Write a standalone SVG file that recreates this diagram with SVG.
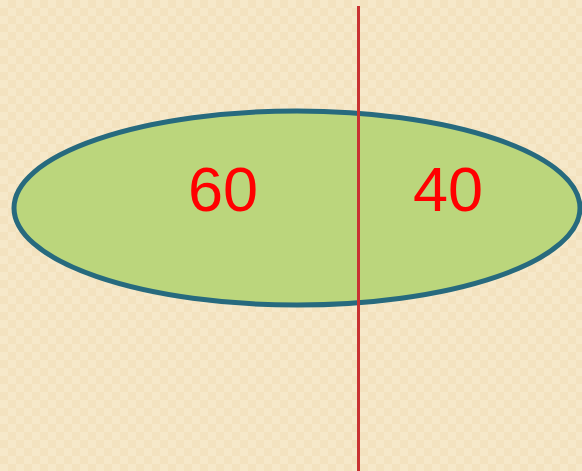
<svg xmlns="http://www.w3.org/2000/svg" width="582" height="471" viewBox="0 0 582 471">
<style>
.lbl{font-family:"Liberation Sans",Arial,sans-serif;font-size:63px;fill:#ff0000;text-anchor:middle}
</style>
<defs>
<pattern id="bg" width="16" height="16" patternUnits="userSpaceOnUse">
<rect width="16" height="16" fill="#f3e2bf"/>
<rect width="8" height="8" fill="#f6e8c9"/>
<rect x="8" y="8" width="8" height="8" fill="#f6e8c9"/>
</pattern>
</defs>
<rect width="582" height="471" fill="url(#bg)"/>
<g id="node-ellipse">
<ellipse cx="297" cy="208" rx="283" ry="97" fill="#bbd67c" stroke="#276a7e" stroke-width="5"/>
<text class="lbl" x="223" y="211">60</text>
<text class="lbl" x="448" y="211">40</text>
</g>
<g id="connectors">
<line x1="358.5" y1="6" x2="358.5" y2="471" stroke="#c83232" stroke-width="3"/>
</g>
</svg>
